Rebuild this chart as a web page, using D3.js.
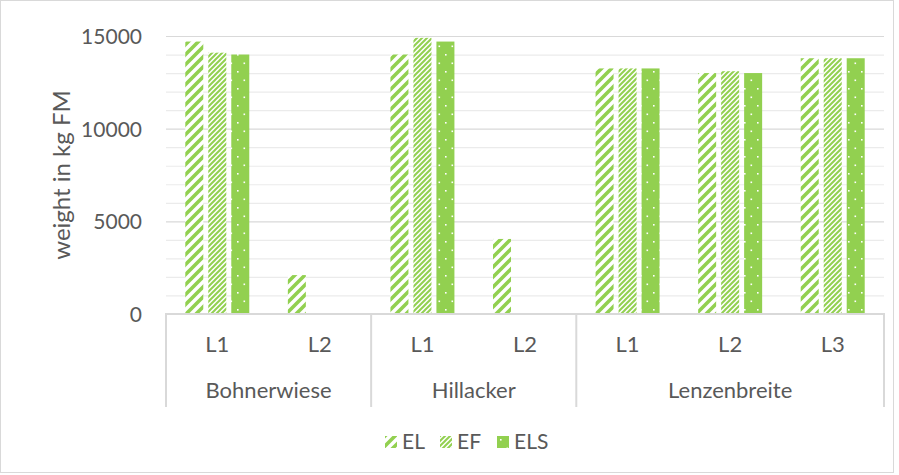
<!DOCTYPE html>
<html>
<head>
<meta charset="utf-8">
<script src="https://cdn.jsdelivr.net/npm/d3@7"></script>
<style>
  html, body { margin: 0; padding: 0; background: #fff; }
  text { font-family: Lato, "Open Sans", sans-serif; fill: #595959; }
</style>
</head>
<body>
<svg id="chart" width="899" height="475"></svg>
<script>
// Harvested weight per plot (kg fresh matter)
const categories = ["L1", "L2", "L1", "L2", "L1", "L2", "L3"];
const groups = ["Bohnerwiese", "Bohnerwiese", "Hillacker", "Hillacker", "Lenzenbreite", "Lenzenbreite", "Lenzenbreite"];
const seriesNames = ["EL", "EF", "ELS"];
const EL  = [14700, 2100, 14000, 4050, 13250, 13000, 13800];
const EF  = [14100, 0, 14900, 0, 13250, 13100, 13800];
const ELS = [14000, 0, 14700, 0, 13250, 13000, 13800];
const yTicks = [0, 5000, 10000, 15000];

const seriesValues = [EL, EF, ELS];
const green = "#92D050";

const svg = d3.select("#chart");
const margin = { left: 166, right: 884, top: 36, bottom: 314 };

// outer frame
svg.append("rect")
  .attr("x", 0.5).attr("y", 0.5)
  .attr("width", 893).attr("height", 472)
  .attr("fill", "#fff").attr("stroke", "#d9d9d9");

// fill patterns for the three series
const defs = svg.append("defs");
const pEL = defs.append("pattern").attr("id", "pEL")
  .attr("patternUnits", "userSpaceOnUse").attr("width", 10).attr("height", 10);
pEL.append("rect").attr("width", 10).attr("height", 10).attr("fill", "#fff");
pEL.append("path").attr("d", "M-2,12 L12,-2 M-7,7 L7,-7 M3,17 L17,3")
  .attr("stroke", green).attr("stroke-width", 3.6);

const pEF = defs.append("pattern").attr("id", "pEF")
  .attr("patternUnits", "userSpaceOnUse").attr("width", 5).attr("height", 5);
pEF.append("rect").attr("width", 5).attr("height", 5).attr("fill", "#fff");
pEF.append("path").attr("d", "M-1,6 L6,-1 M-3.5,3.5 L3.5,-3.5 M1.5,8.5 L8.5,1.5")
  .attr("stroke", green).attr("stroke-width", 2);

const pELS = defs.append("pattern").attr("id", "pELS")
  .attr("patternUnits", "userSpaceOnUse").attr("width", 13).attr("height", 17);
pELS.append("rect").attr("width", 13).attr("height", 17).attr("fill", green);
pELS.append("rect").attr("x", 3).attr("y", 3).attr("width", 1.6).attr("height", 1.6).attr("fill", "#fff");
pELS.append("rect").attr("x", 9.5).attr("y", 11.5).attr("width", 1.6).attr("height", 1.6).attr("fill", "#fff");

const fills = ["url(#pEL)", "url(#pEF)", "url(#pELS)"];

// scales
const x = d3.scaleBand().domain(d3.range(categories.length))
  .range([margin.left, margin.right]).padding(0);
const xs = d3.scaleBand().domain(seriesNames)
  .range([-32, 32]).paddingInner(0.217).paddingOuter(0);
const y = d3.scaleLinear().domain([0, 15000]).range([margin.bottom, margin.top]);

// gridlines
const grid = svg.append("g").attr("transform", `translate(${margin.left},0)`)
  .call(d3.axisLeft(y).tickValues(d3.range(1000, 15001, 1000))
    .tickSize(-(margin.right - margin.left)).tickFormat(""));
grid.select(".domain").remove();
grid.selectAll(".tick line")
  .attr("stroke", d => d % 5000 === 0 ? "#d9d9d9" : "#ebebeb")
  .attr("stroke-width", 1.2);

// y axis labels
const yAxis = svg.append("g").attr("transform", `translate(${margin.left},0)`)
  .call(d3.axisLeft(y).tickValues(yTicks).tickFormat(d3.format("d")).tickSize(0).tickPadding(24));
yAxis.select(".domain").remove();
yAxis.selectAll("text").attr("font-size", 21).style("font-family", "Lato, sans-serif")
  .attr("fill", "#595959").attr("dy", "0.35em");

// bars
const data = [];
categories.forEach((c, i) => {
  seriesNames.forEach((s, j) => {
    data.push({ i, s, j, v: seriesValues[j][i] });
  });
});
svg.append("g").selectAll("rect").data(data.filter(d => d.v > 0)).join("rect")
  .attr("x", d => x(d.i) + x.bandwidth() / 2 + xs(d.s))
  .attr("width", xs.bandwidth())
  .attr("y", d => y(d.v))
  .attr("height", d => y(0) - y(d.v))
  .attr("fill", d => fills[d.j]);

// category axis
const xAxis = svg.append("g").attr("transform", `translate(0,${margin.bottom})`)
  .call(d3.axisBottom(x).tickSize(0).tickPadding(22).tickFormat(i => categories[i]));
xAxis.select(".domain").remove();
xAxis.selectAll("text").attr("font-size", 22).style("font-family", "Lato, sans-serif")
  .attr("fill", "#595959");

svg.append("line")
  .attr("x1", margin.left - 1).attr("x2", margin.right + 1)
  .attr("y1", margin.bottom).attr("y2", margin.bottom)
  .attr("stroke", "#d9d9d9").attr("stroke-width", 2);

// group labels and separators
const groupNames = Array.from(new Set(groups));
const seps = [margin.left];
groupNames.forEach(g => {
  const idx = d3.range(categories.length).filter(i => groups[i] === g);
  const x0 = x(idx[0]), x1 = x(idx[idx.length - 1]) + x.bandwidth();
  seps.push(x1);
  svg.append("text").attr("x", (x0 + x1) / 2).attr("y", 398)
    .attr("text-anchor", "middle").attr("font-size", 22).text(g);
});
svg.append("g").selectAll("line").data(seps).join("line")
  .attr("x1", d => d).attr("x2", d => d)
  .attr("y1", margin.bottom).attr("y2", 407)
  .attr("stroke", "#d9d9d9").attr("stroke-width", 2);

// y axis title
svg.append("text")
  .attr("transform", "translate(70,175) rotate(-90)")
  .attr("text-anchor", "middle").attr("font-size", 24)
  .text("weight in kg FM");

// legend
const legendX = [385, 440, 497];
const legend = svg.append("g").selectAll("g").data(seriesNames).join("g")
  .attr("transform", (d, i) => `translate(${legendX[i]},436)`);
legend.append("rect").attr("width", 12).attr("height", 12)
  .attr("fill", (d, i) => fills[i]);
legend.append("text").attr("x", 17).attr("y", 13).attr("font-size", 21)
  .text(d => d);
</script>
</body>
</html>
